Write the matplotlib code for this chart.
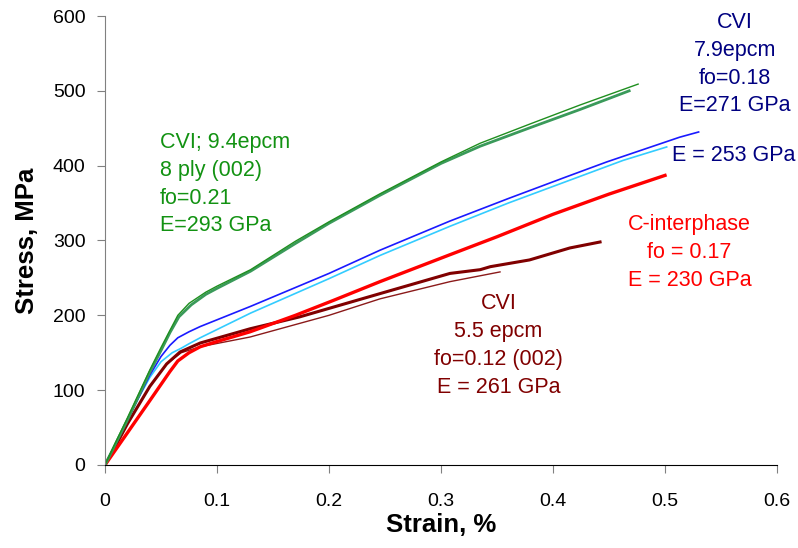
import numpy as np
import matplotlib
matplotlib.use('Agg')
import matplotlib.pyplot as plt

plt.rcParams['font.family'] = ['Liberation Sans', 'DejaVu Sans']

# CVI 9.4 epcm, 8 ply (two specimens)
strain_g1 = [0, 0.01, 0.02, 0.03, 0.04, 0.05, 0.058, 0.065, 0.075, 0.09, 0.1, 0.13, 0.17, 0.2, 0.245, 0.3, 0.335, 0.38, 0.424, 0.476]
stress_g1 = [0, 32, 63, 95, 127, 157, 180, 200, 216, 231, 239, 261, 299, 325, 362, 405, 430, 456, 481, 509]
strain_g2 = [0, 0.01, 0.02, 0.03, 0.04, 0.05, 0.058, 0.066, 0.077, 0.09, 0.1, 0.13, 0.17, 0.2, 0.245, 0.3, 0.335, 0.38, 0.424, 0.468]
stress_g2 = [0, 30, 60, 92, 124, 153, 177, 198, 214, 228, 236, 259, 296, 323, 360, 403, 426, 451, 475, 500]

# CVI 7.9 epcm
strain_b = [0, 0.01, 0.02, 0.03, 0.04, 0.05, 0.058, 0.065, 0.075, 0.085, 0.1, 0.13, 0.2, 0.2455, 0.308, 0.36, 0.41, 0.448, 0.513, 0.53]
stress_b = [0, 30, 60, 90, 120, 145, 160, 170, 178, 185, 194, 212, 256, 287, 326, 356, 384, 405, 438, 445]
strain_c = [0, 0.01, 0.02, 0.03, 0.04, 0.05, 0.06, 0.068, 0.075, 0.085, 0.1, 0.13, 0.2, 0.2455, 0.308, 0.36, 0.4625, 0.5015]
stress_c = [0, 31, 61, 90, 117, 138, 150, 156, 162, 170, 181, 203, 249, 280, 319, 350, 407, 425]

# C-interphase
strain_r = [0, 0.02, 0.04, 0.058, 0.065, 0.075, 0.085, 0.1, 0.1295, 0.17, 0.204, 0.2455, 0.308, 0.35, 0.4, 0.45, 0.5]
stress_r = [0, 43, 86, 125, 139, 150, 158, 165, 178, 200, 220, 245, 281, 305, 335, 362, 387]

# CVI 5.5 epcm
strain_m1 = [0, 0.01, 0.02, 0.04, 0.055, 0.067, 0.085, 0.1295, 0.174, 0.2455, 0.308, 0.335, 0.344, 0.379, 0.415, 0.442]
stress_m1 = [0, 27, 55, 105, 135, 151, 163, 182, 198, 229, 256, 261, 265, 274, 290, 298]
strain_m2 = [0, 0.01, 0.02, 0.04, 0.055, 0.068, 0.085, 0.1295, 0.2, 0.2455, 0.308, 0.3527]
stress_m2 = [0, 27, 55, 105, 135, 150, 158, 171, 200, 222, 245, 258]

fig = plt.figure(figsize=(7.98, 5.48), dpi=100)
ax = fig.add_axes([0.1316, 0.1515, 0.8421, 0.8193])

ax.plot(strain_m2, stress_m2, color='#8b1a1a', lw=1.0)
ax.plot(strain_m1, stress_m1, color='#800000', lw=2.2)
ax.plot(strain_r, stress_r, color='#ff0000', lw=2.4)
ax.plot(strain_c, stress_c, color='#33ccff', lw=1.2)
ax.plot(strain_b, stress_b, color='#1a1aff', lw=1.2)
ax.plot(strain_g2, stress_g2, color='#3a9a5a', lw=2.0)
ax.plot(strain_g1, stress_g1, color='#1f8f1f', lw=1.0)

ax.set_xlim(0, 0.6)
ax.set_ylim(0, 600)
ax.set_xticks(np.arange(0, 0.61, 0.1))
ax.set_xticklabels(['0', '0.1', '0.2', '0.3', '0.4', '0.5', '0.6'])
ax.set_yticks(np.arange(0, 601, 100))

for s in ['top', 'right']:
    ax.spines[s].set_visible(False)
ax.spines['left'].set_color('#808080')
ax.spines['bottom'].set_color('black')
ax.tick_params(axis='x', colors='#808080', labelcolor='black', length=6, labelsize=14, pad=14)
ax.tick_params(axis='y', colors='#808080', labelcolor='black', length=6, labelsize=14, pad=8)

ax.set_xlabel('Strain, %', fontsize=18.5, fontweight='bold', labelpad=2)
ax.set_ylabel('Stress, MPa', fontsize=18.5, fontweight='bold', labelpad=10)

ax.text(0.0491, 375, 'CVI; 9.4epcm\n8 ply (002)\nfo=0.21\nE=293 GPa', color='#129212',
        fontsize=15.5, ha='left', va='center', linespacing=1.42)
ax.text(0.5625, 535.5, 'CVI\n7.9epcm\nfo=0.18\nE=271 GPa', color='#000080',
        fontsize=15.5, ha='center', va='center', multialignment='center', linespacing=1.42)
ax.text(0.5616, 414, 'E = 253 GPa', color='#000080', fontsize=15.5, ha='center', va='center')
ax.text(0.5217, 283.7, 'C-interphase\nfo = 0.17\nE = 230 GPa', color='#ff0000',
        fontsize=15.5, ha='center', va='center', multialignment='center', linespacing=1.42)
ax.text(0.3512, 159.7, 'CVI\n5.5 epcm\nfo=0.12 (002)\nE = 261 GPa', color='#800000',
        fontsize=15.5, ha='center', va='center', multialignment='center', linespacing=1.42)

fig.savefig('out.png', dpi=100)
